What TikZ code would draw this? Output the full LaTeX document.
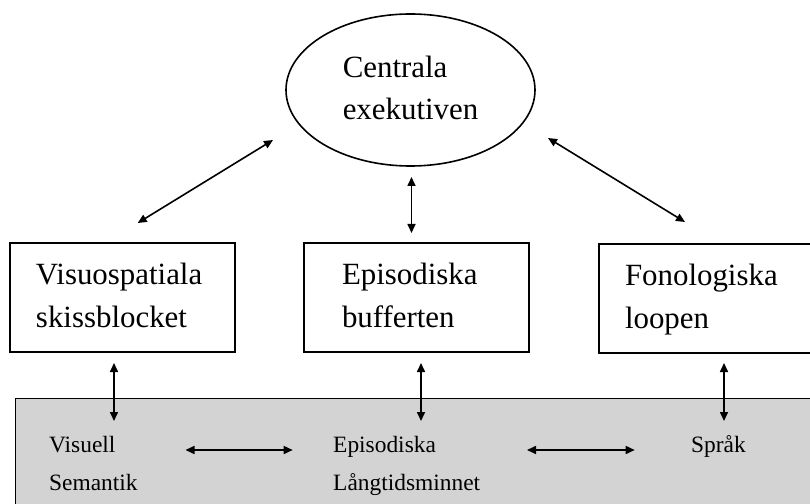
\documentclass[tikz,border=0pt]{standalone}
\usepackage{fontspec}
\setmainfont{Liberation Serif}
\usetikzlibrary{arrows.meta, shapes.geometric}
\definecolor{minneGra}{RGB}{211, 211, 211}

\tikzset{
  modul/.style={draw, line width=1.6bp, rectangle, minimum width=225bp, minimum height=109bp,
    inner xsep=26bp, text width=173bp, align=left, font=\fontsize{31}{43}\selectfont},
  pil/.style={{Triangle[length=9bp,width=8bp]}-{Triangle[length=9bp,width=8bp]}, line width=1.6bp},
  minnetext/.style={anchor=north west, inner sep=0pt, align=left, font=\fontsize{23.5}{38}\selectfont}
}

\begin{document}
\begin{tikzpicture}[x=1bp, y=-1bp]
  \useasboundingbox (0,0) rectangle (810,504);
  \clip (0,0) rectangle (810,504);

  % langtidsminnet
  \node[draw, fill=minneGra, line width=1.2bp, anchor=north west, minimum width=830bp,
        minimum height=140bp, inner sep=0pt] (minne) at (15,398) {};

  \node[ellipse, draw, line width=1.6bp, minimum width=249bp, minimum height=152bp, inner sep=0pt,
        align=left, font=\fontsize{31}{42}\selectfont] (ce) at (410.5,90) {\strut Centrala\\exekutiven\strut};

  \node[modul] (vsk) at (122.5,297.5) {\strut Visuospatiala\\skissblocket\strut};
  \node[modul, inner xsep=38bp, text width=149bp] (eb) at (416.5,297.5) {\strut Episodiska\\bufferten\strut};
  \node[modul] (fl) at (711.5,298.5) {\strut Fonologiska\\loopen\strut};

  \node[minnetext] (vis) at (49,426) {\strut Visuell\\Semantik};
  \node[minnetext] (epi) at (333,426) {\strut Episodiska\\Långtidsminnet};
  \node[minnetext] (spr) at (691,426) {\strut Språk};

  \coordinate (vsk-ce) at (137.7,223);
  \coordinate (ce-vsk) at (273,140);
  \coordinate (ce-eb)  at (411.5,177);
  \coordinate (eb-ce)  at (411.5,233);
  \coordinate (ce-fl)  at (548,138);
  \coordinate (fl-ce)  at (685,222);

  \draw[pil] (vsk-ce) -- (ce-vsk);
  \draw[pil] (ce-eb) -- (eb-ce);
  \draw[pil] (ce-fl) -- (fl-ce);

  \coordinate (vsk-ned) at (114,363);
  \coordinate (vis-upp) at (114,421);
  \coordinate (eb-ned)  at (421,363);
  \coordinate (epi-upp) at (421,421);
  \coordinate (fl-ned)  at (724,363);
  \coordinate (spr-upp) at (724,421);

  \draw[pil] (vsk-ned) -- (vis-upp);
  \draw[pil] (eb-ned) -- (epi-upp);
  \draw[pil] (fl-ned) -- (spr-upp);

  \coordinate (vis-epi) at (185.5,450);
  \coordinate (epi-vis) at (292.7,450);
  \coordinate (epi-spr) at (527,450);
  \coordinate (spr-epi) at (634.7,450);

  \draw[pil] (vis-epi) -- (epi-vis);
  \draw[pil] (epi-spr) -- (spr-epi);
\end{tikzpicture}
\end{document}
